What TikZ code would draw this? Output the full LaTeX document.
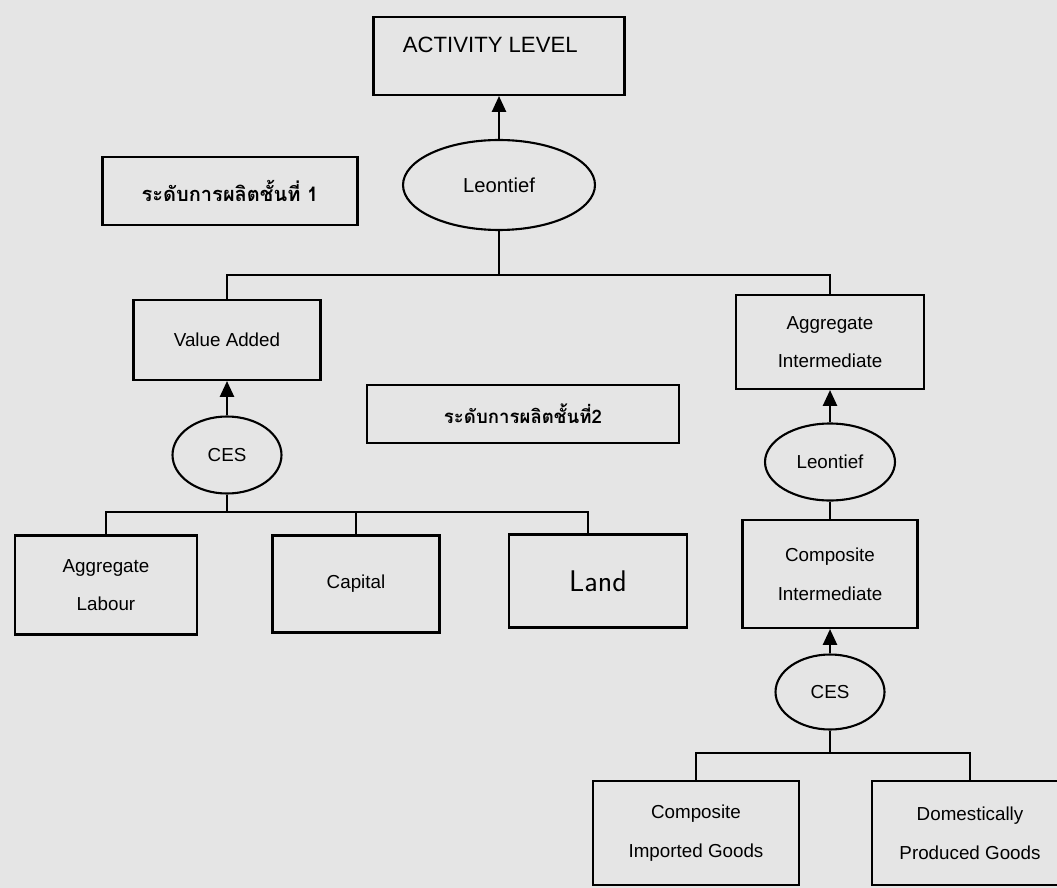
\documentclass[tikz,border=0pt]{standalone}
\usepackage{fontspec}
\setmainfont{Liberation Sans}
\newfontfamily\thaifont[Script=Thai]{Loma}
\usetikzlibrary{shapes.geometric,arrows.meta}
\definecolor{paper}{rgb}{0.9,0.9,0.9}

\begin{document}
\begin{tikzpicture}[x=0.02cm,y=-0.02cm,line width=1.2pt,
		box/.style={draw,rectangle,inner sep=0pt,align=center,font=\fontsize{10.7}{22}\selectfont},
		fn/.style={draw,ellipse,inner sep=0pt,font=\fontsize{10.7}{13}\selectfont},
		level/.style={draw,rectangle,inner sep=0pt,font=\thaifont\bfseries\fontsize{11.4}{14}\selectfont},
		up/.style={-{Triangle[length=9pt,width=8pt]}}]
	\useasboundingbox[fill=paper] (0,0) rectangle (1057,888);
	% top level
	\node[box,minimum width=5.02cm,minimum height=1.56cm,text depth=13pt,font=\fontsize{12.6}{15}\selectfont] (act) at (499,56) {ACTIVITY LEVEL\hspace*{0.35cm}};
	\node[fn,minimum width=3.84cm,minimum height=1.8cm,font=\fontsize{11.5}{14}\selectfont] (leon1) at (499,185) {Leontief};
	\node[level,minimum width=5.1cm,minimum height=1.36cm] (th1) at (230,191) {ระดับการผลิตชั้นที่ 1};
	\node[box,minimum width=3.74cm,minimum height=1.6cm] (va) at (227,340) {Value Added};
	\node[box,minimum width=3.76cm,minimum height=1.88cm] (aggi) at (830,342) {Aggregate\\Intermediate};
	\draw[up] (leon1) -- (act);
	\coordinate (t1) at (leon1.south |- 0,275);
	\draw (leon1.south) -- (t1);
	\draw (va.north) |- (t1) -| (aggi.north);
	% second level
	\node[level,minimum width=6.24cm,minimum height=1.16cm,font=\thaifont\bfseries\fontsize{10.6}{13}\selectfont] (th2) at (523,414) {ระดับการผลิตชั้นที่2};
	\node[fn,minimum width=2.18cm,minimum height=1.54cm] (ces1) at (227,455) {CES};
	\node[box,minimum width=3.64cm,minimum height=1.98cm] (lab) at (106,585) {Aggregate\\Labour};
	\node[box,minimum width=3.34cm,minimum height=1.94cm] (cap) at (356,584) {Capital};
	\node[box,minimum width=3.56cm,minimum height=1.86cm,font=\sffamily\fontsize{17}{20}\selectfont] (land) at (598,581) {Land};
	\draw[up] (ces1) -- (va);
	\coordinate (t2) at (ces1.south |- 0,512);
	\draw (ces1.south) -- (t2);
	\draw (lab.north) |- (t2) -| ([xshift=-0.2cm]land.north);
	\draw (cap.north) -- (cap.north |- t2);
	% intermediate branch
	\node[fn,minimum width=2.6cm,minimum height=1.54cm] (leon2) at (830,462) {Leontief};
	\node[box,minimum width=3.5cm,minimum height=2.16cm] (comi) at (830,574) {Composite\\Intermediate};
	\node[fn,minimum width=2.18cm,minimum height=1.5cm] (ces2) at (830,692) {CES};
	\node[box,minimum width=4.12cm,minimum height=2.08cm] (imp) at (696,833) {Composite\\Imported Goods};
	\node[box,minimum width=3.92cm,minimum height=2.08cm] (dom) at (970,833) {Domestically\\Produced Goods};
	\draw[up] (leon2) -- (aggi);
	\draw (leon2) -- (comi);
	\draw[up] (ces2) -- (comi);
	\coordinate (t3) at (ces2.south |- 0,753);
	\draw (ces2.south) -- (t3);
	\draw (imp.north) |- (t3) -| (dom.north);
\end{tikzpicture}
\end{document}
